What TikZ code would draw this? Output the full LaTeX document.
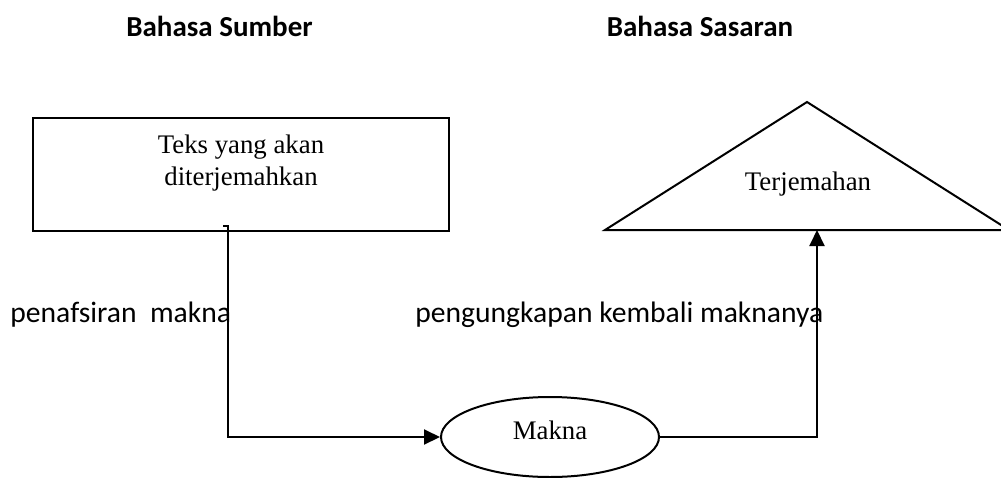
\documentclass[tikz,border=0pt]{standalone}
\usepackage{fontspec}
\setmainfont{Liberation Serif}
\newfontfamily\labelfont{Carlito}
\usepackage{tikz}
\usetikzlibrary{shapes, arrows.meta, positioning, calc}

\begin{document}
\begin{tikzpicture}[x=0.5pt, y=-0.5pt,
  line/.style={draw=black, line width=1pt},
  conn/.style={line, -{Triangle[length=8pt, width=7.5pt]}},
  serif/.style={font=\fontsize{13.4}{16}\selectfont, inner sep=0pt},
  sans/.style={font=\labelfont\fontsize{14.8}{17}\selectfont, inner sep=0pt}]
  \useasboundingbox (0,0) rectangle (1001,477);

  % Titles
  \node[sans, font=\labelfont\fontsize{14.5}{17}\selectfont\bfseries, anchor=base] (srclang) at (219.5, 36) {Bahasa Sumber};
  \node[sans, font=\labelfont\fontsize{14.5}{17}\selectfont\bfseries, anchor=base] (tgtlang) at (700, 36) {Bahasa Sasaran};

  % Source text
  \node[line, line width=1.3pt, minimum width=208pt, minimum height=56.5pt, inner sep=0pt] (srcbox) at (241, 174.5) {};
  \node[serif, align=center] (srctext) at (241, 163) {Teks yang akan\\diterjemahkan};
  \coordinate (srcout) at (223, 226);

  % Translation
  \draw[line] (605, 230) -- (807, 102) -- (1009, 230) -- cycle;
  \node[serif, anchor=base] (tgttext) at (808, 190) {Terjemahan};
  \coordinate (tgtin) at (817, 230);

  % Meaning
  \node[line, ellipse, minimum width=109pt, minimum height=40pt, inner sep=0pt] (makna) at (550, 437) {};
  \node[serif, anchor=base] (maknatext) at (550, 439) {Makna};

  % Arrows
  \draw[conn] (srcout) -- ++(5, 0) |- (makna.west);
  \draw[conn] (makna.east) -| (tgtin);

  % Steps
  \node[sans, anchor=base west] (tafsir) at (10, 322) {penafsiran\ \ makna};
  \node[sans, anchor=base west] (ungkap) at (415, 322) {pengungkapan kembali maknanya};
\end{tikzpicture}
\end{document}
